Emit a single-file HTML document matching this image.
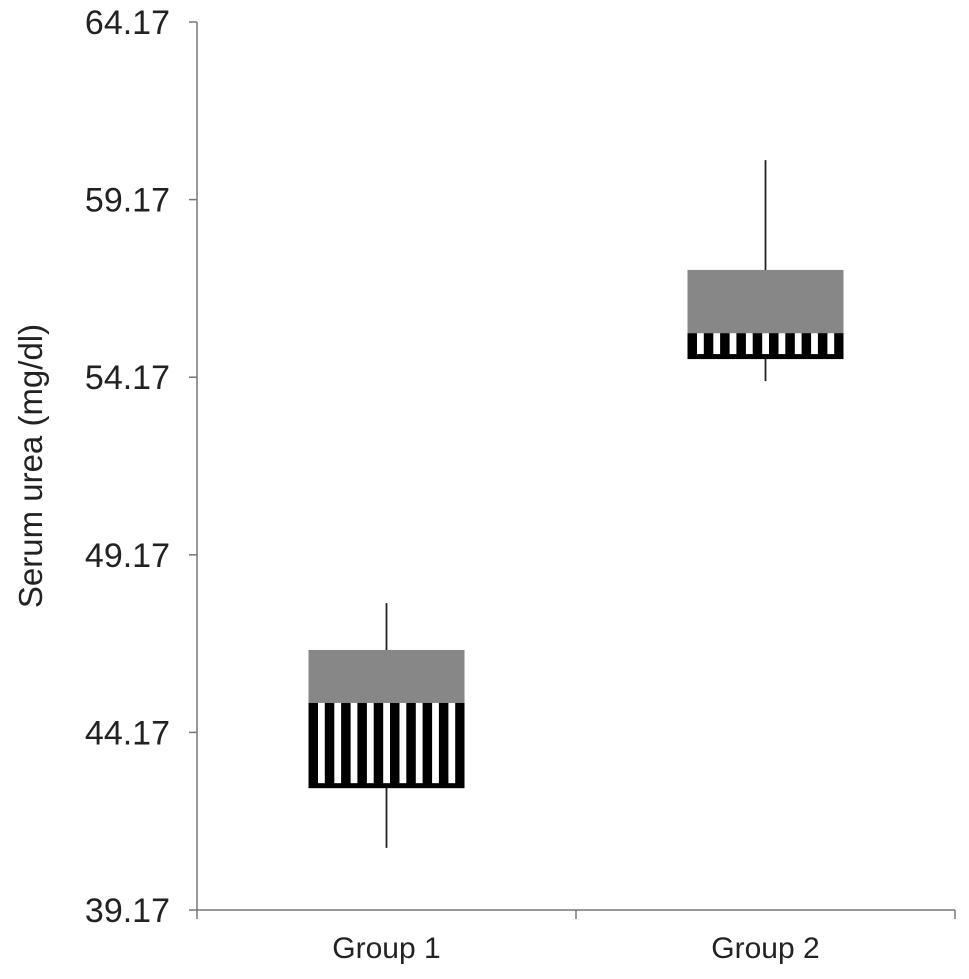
<!DOCTYPE html>
<html><head><meta charset="utf-8"><style>
body{margin:0;background:#fff;}
svg{display:block;font-family:"Liberation Sans",Arial,sans-serif;}
</style></head><body>
<svg id="chart" width="969" height="979" viewBox="0 0 969 979"></svg>
<script>
const categories=["Group 1","Group 2"];
const q3Values=[46.49,57.19];
const medianValues=[45.0,55.41];
const q1Values=[42.60,54.68];
const maxValues=[47.81,60.28];
const minValues=[40.92,54.06];
const tickValues=[39.17,44.17,49.17,54.17,59.17,64.17];

const NS="http://www.w3.org/2000/svg";
const svg=document.getElementById('chart');
const X0=197,X1=955,Y0=910,Y1=22,VMIN=39.17,VMAX=64.17;
function yScale(v){return Y0-(v-VMIN)/(VMAX-VMIN)*(Y0-Y1);}
const bandW=(X1-X0)/categories.length;
function xCenter(i){return X0+bandW*(i+0.5);}
function mk(tag,attrs,parent){const e=document.createElementNS(NS,tag);for(const k in attrs)e.setAttribute(k,attrs[k]);(parent||svg).appendChild(e);return e;}

let ya=mk('line',{x1:X0,y1:Y1,x2:X0,y2:Y0,stroke:'#777','stroke-width':1.5});


let xa=mk('line',{x1:X0,y1:Y0,x2:X1,y2:Y0,stroke:'#777','stroke-width':1.5});


tickValues.forEach(v=>{
  const y=yScale(v);
  let t=mk('line',{x1:X0-8,y1:y,x2:X0,y2:y,stroke:'#777','stroke-width':1.5});
  
  
  let l=mk('text',{x:170,y:y+12,'text-anchor':'end','font-size':34,fill:'#222'});
  l.textContent=v.toFixed(2);
  
  
});
for(let i=0;i<=categories.length;i++){
  const x=X0+bandW*i;
  let t=mk('line',{x1:x,y1:Y0,x2:x,y2:Y0+9,stroke:'#777','stroke-width':1.5});
  
  
}
let yt=mk('text',{x:0,y:0,'text-anchor':'middle','font-size':33,fill:'#222',transform:'translate(42,466) rotate(-90)'});
yt.textContent='Serum urea (mg/dl)';



const BW=156;
categories.forEach((c,i)=>{
  const cx=xCenter(i),left=cx-BW/2;
  const g=mk('g',{});
  
  
  let w=mk('line',{x1:cx,y1:yScale(maxValues[i]),x2:cx,y2:yScale(minValues[i]),stroke:'#222','stroke-width':1.8},g);
  
  
  const yq3=yScale(q3Values[i]),ym=yScale(medianValues[i]),yq1=yScale(q1Values[i]);
  let up=mk('rect',{x:left,y:yq3,width:BW,height:ym-yq3,fill:'#878787'},g);
  
  
  let lo=mk('rect',{x:left,y:ym,width:BW,height:yq1-ym,fill:'#000'},g);
  
  
  const b=9.5,wd=6.8;
  for(let k=0;k<9;k++){
    let s=mk('rect',{x:left+b+k*(b+wd),y:ym,width:wd,height:Math.max(0,yq1-ym-5),fill:'#fff'},g);
    
    
  }
  let lb=mk('text',{x:cx,y:958,'text-anchor':'middle','font-size':30,fill:'#222'});
  lb.textContent=c;
  
  
});
</script>
</body></html>
